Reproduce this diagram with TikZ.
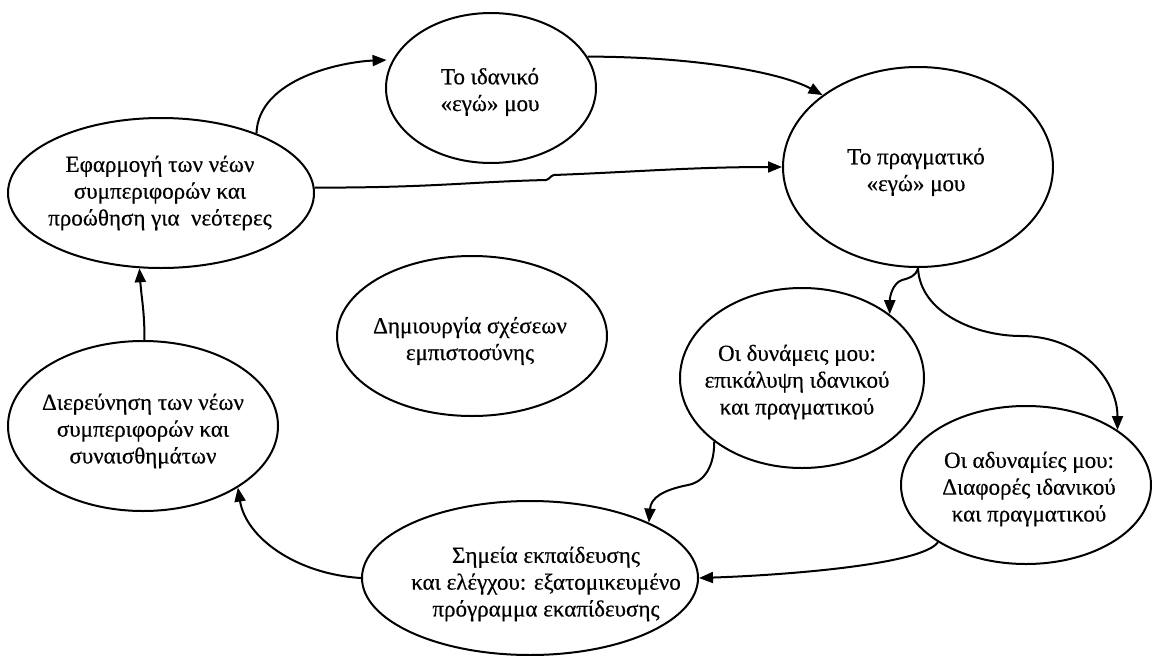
\documentclass[tikz,border=0pt]{standalone}
\usepackage{fontspec}
\setmainfont{Liberation Serif}[FakeBold=0.5]
\usetikzlibrary{shapes.geometric,arrows.meta}
\tikzset{
  oval/.style={draw, ellipse, line width=2pt, inner sep=0pt},
  txt/.style={align=center, inner sep=0pt, font=\fontsize{23}{26.8}\selectfont},
  conn/.style={line width=2pt, -{Triangle[length=14pt,width=11pt]}},
}
\begin{document}
\begin{tikzpicture}[x=1pt,y=-1pt]
\useasboundingbox (0,0) rectangle (1152,656);
% ellipses
\node[oval, minimum width=306, minimum height=150] (apply) at (161,193) {};
\node[oval, minimum width=210, minimum height=150] (ideal) at (491,88) {};
\node[oval, minimum width=270, minimum height=200] (real) at (918,167) {};
\node[oval, minimum width=270, minimum height=160] (trust) at (472,336) {};
\node[oval, minimum width=270, minimum height=170] (explore) at (143,426) {};
\node[oval, minimum width=244, minimum height=180] (strong) at (802,378) {};
\node[oval, minimum width=250, minimum height=158] (weak) at (1026,485) {};
\node[oval, minimum width=336, minimum height=154] (train) at (530,578) {};
% texts
\node[txt] (applyT) at (160,193) {Εφαρμογή των νέων\\συμπεριφορών και\\προώθηση για\ \ νεότερες};
\node[txt] (idealT) at (490,92) {Το ιδανικό\\«εγώ» μου};
\node[txt] (realT) at (916,172) {Το πραγματικό\\«εγώ» μου};
\node[txt] (trustT) at (470,341) {Δημιουργία σχέσεων\\εμπιστοσύνης};
\node[txt] (exploreT) at (143,431) {Διερεύνηση των νέων\\συμπεριφορών και\\συναισθημάτων};
\node[txt] (strongT) at (797,382) {Οι δυνάμεις μου:\\επικάλυψη ιδανικού\\και πραγματικού};
\node[txt] (weakT) at (1029,489) {Οι αδυναμίες μου:\\Διαφορές ιδανικού\\και πραγματικού};
\node[txt] (trainT) at (546,584) {Σημεία εκπαίδευσης\\και ελέγχου: εξατομικευμένο\\πρόγραμμα εκαπίδευσης};
% connectors
\draw[conn, shorten >=6pt] (apply.32) .. controls +(2,-55) and +(-50,2) .. (ideal.164);
\draw[conn] (ideal.18) .. controls +(110,0) and +(-40,-22) .. (real.143);
\draw[conn] (apply.2) .. controls +(120,0) and +(-80,2) .. (546,180)
  .. controls +(4,-1) and +(-4,1) .. (554,175)
  .. controls +(80,-3) and +(-90,0) .. (real.180);
\draw[conn] (explore.89) .. controls +(0,-30) and +(2,30) .. (apply.254);
\draw[conn] (train.180) .. controls +(-65,-4) and +(8,50) .. (explore.-33);
\draw[conn] (real.270) .. controls +(-2,8) and +(8,-2) .. (902,280)
  .. controls +(-9,3) and +(0,-18) .. (strong.36);
\draw[conn] (real.270) .. controls +(2,45) and +(-45,0) .. (1021,336)
  .. controls +(60,0) and +(0,-50) .. (weak.31);
\draw[conn] (strong.216) .. controls +(0,30) and +(12,-2) .. (688,485)
  .. controls +(-25,5) and +(2,-25) .. (train.25);
\draw[conn] (weak.213) .. controls +(-15,22) and +(90,-3) .. (train.0);
\end{tikzpicture}
\end{document}
